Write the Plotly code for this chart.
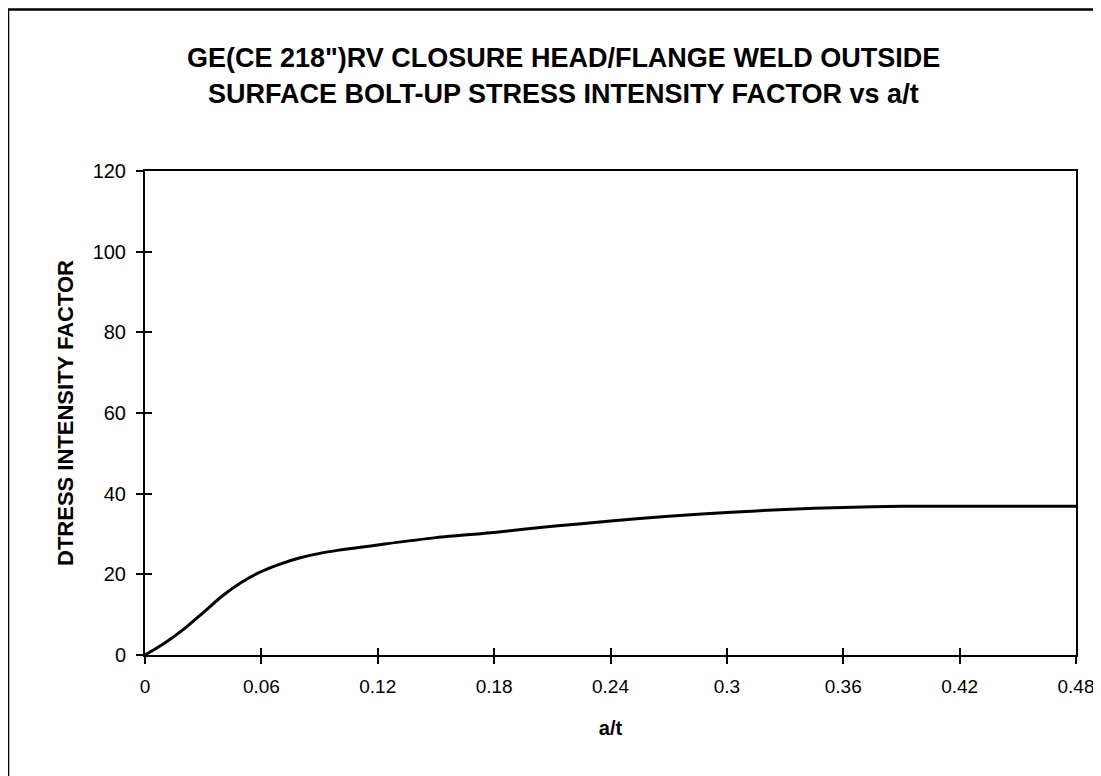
import plotly.graph_objects as go

# Data
a_over_t = [0.0, 0.01, 0.02, 0.03, 0.04, 0.05, 0.06, 0.07, 0.08, 0.09, 0.10,
            0.12, 0.15, 0.18, 0.21, 0.24, 0.27, 0.30, 0.33, 0.36, 0.39, 0.42,
            0.45, 0.48]
stress_if = [0.0, 2.9, 6.4, 10.5, 14.7, 18.1, 20.7, 22.6, 24.1, 25.2, 26.0,
             27.3, 29.1, 30.4, 31.9, 33.2, 34.4, 35.3, 36.1, 36.6, 36.85, 36.9,
             36.9, 36.9]
x_ticks = [0, 0.06, 0.12, 0.18, 0.24, 0.3, 0.36, 0.42, 0.48]
x_tick_labels = ["0", "0.06", "0.12", "0.18", "0.24", "0.3", "0.36", "0.42", "0.48"]
y_ticks = [0, 20, 40, 60, 80, 100, 120]

title_line1 = "GE(CE 218\")RV CLOSURE HEAD/FLANGE WELD OUTSIDE"
title_line2 = "SURFACE BOLT-UP STRESS INTENSITY FACTOR vs a/t"

# figure is placed by the page at an 8px offset
W, H = 1093, 768
L, T = 137, 163
R = W - 1068
B = H - 647
pw, ph = W - L - R, H - T - B

FONT = "Arial, Liberation Sans, sans-serif"

fig = go.Figure()
fig.add_trace(go.Scatter(x=a_over_t, y=stress_if, mode="lines",
                         line=dict(color="black", width=3, shape="spline", smoothing=0.8),
                         showlegend=False, hoverinfo="x+y"))
# invisible trace on overlay axes for inside ticks
fig.add_trace(go.Scatter(x=[0, 0.48], y=[0, 120], xaxis="x2", yaxis="y2", mode="markers",
                         marker=dict(opacity=0), showlegend=False, hoverinfo="skip"))

axis_common = dict(showgrid=False, zeroline=False, showline=True, linecolor="black",
                   linewidth=2, mirror=True, ticks="outside", ticklen=7, tickwidth=1.5,
                   tickcolor="black")

fig.update_layout(
    width=W, height=H,
    margin=dict(l=L, r=R, t=T, b=B, autoexpand=False),
    paper_bgcolor="white", plot_bgcolor="white",
    font=dict(family=FONT, color="black"),
    xaxis=dict(range=[0, 0.48], tickvals=x_ticks, ticktext=x_tick_labels,
               tickfont=dict(size=19), ticklabelstandoff=6,
               title=dict(text="<b>a/t</b>", font=dict(size=20), standoff=25),
               **axis_common),
    yaxis=dict(range=[0, 120], tickvals=y_ticks, tickfont=dict(size=20),
               ticklabelstandoff=6,
               title=dict(text="<b>DTRESS INTENSITY FACTOR</b>", font=dict(size=22), standoff=13),
               **axis_common),
    xaxis2=dict(range=[0, 0.48], overlaying="x", tickvals=x_ticks, showticklabels=False,
                ticks="inside", ticklen=7, tickwidth=1.5, tickcolor="black",
                showgrid=False, zeroline=False, showline=False),
    yaxis2=dict(range=[0, 120], overlaying="y", tickvals=y_ticks, showticklabels=False,
                ticks="inside", ticklen=7, tickwidth=1.5, tickcolor="black",
                showgrid=False, zeroline=False, showline=False),
)

# title lines
for txt, py in [(title_line1, 50), (title_line2, 86)]:
    fig.add_annotation(text=f"<b>{txt}</b>", xref="paper", yref="paper",
                       x=(555 - L) / pw, y=(H - B - py) / ph, xanchor="center",
                       yanchor="middle", showarrow=False, font=dict(size=27, family=FONT))

# outer frame (extends beyond right and bottom edges as in the scan)
fig.add_shape(type="rect", xref="paper", yref="paper",
              x0=(0 - L) / pw, x1=(1130 - L) / pw,
              y0=(H - B - 800) / ph, y1=(H - B - 1.5) / ph,
              line=dict(color="black", width=2.5), layer="below")

fig.write_html("out.html")
